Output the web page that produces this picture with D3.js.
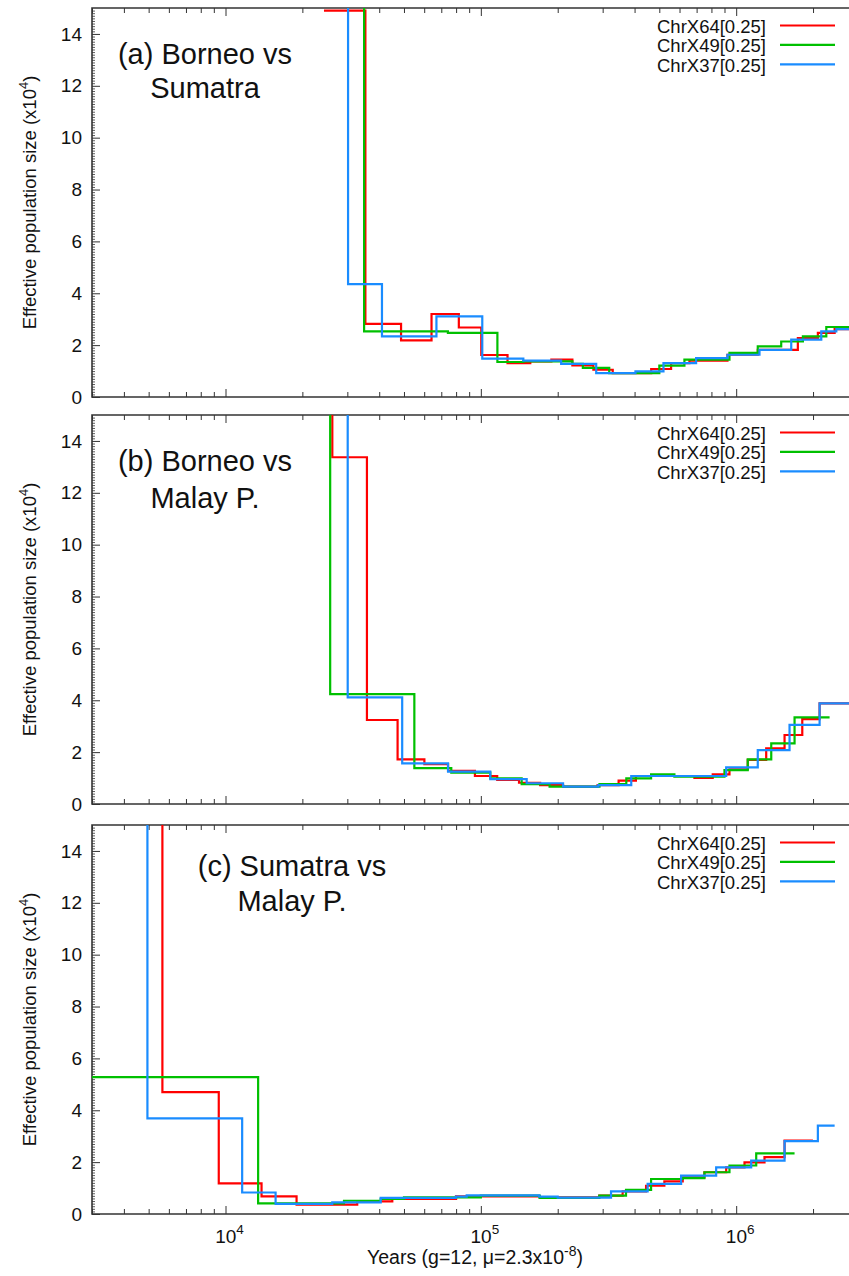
<!DOCTYPE html>
<html>
<head>
<meta charset="utf-8">
<script src="https://cdn.jsdelivr.net/npm/d3@7"></script>
<style>
  body { margin: 0; background: #fff; }
  svg text { font-family: "Liberation Sans", Arial, Helvetica, sans-serif; fill: #111; }
</style>
</head>
<body>
<svg id="chart" width="849" height="1276"></svg>
<script>
// legend / series
const seriesNames = ["ChrX64[0.25]", "ChrX49[0.25]", "ChrX37[0.25]"];
const seriesColors = ["#ff0000", "#00c000", "#1a8cff"];
const panelTitles = [["(a) Borneo vs", "Sumatra"], ["(b) Borneo vs", "Malay P."], ["(c) Sumatra vs", "Malay P."]];
const yTicks = [0, 2, 4, 6, 8, 10, 12, 14];
const xMajorTicks = [1e4, 1e5, 1e6];
const xTickExponents = ["4", "5", "6"];

// (a) Borneo vs Sumatra  -- step starts (years, last entry = end) and Ne (x10^4)
const aRedYears = [24300, 35300, 48700, 64100, 82000, 100400, 127200, 156200, 188900, 228300, 275900, 328500, 464700, 556000, 656000, 924500, 1215000, 1744000, 2089000, 2430000, 3000000];
const aRedNe = [14.9, 2.82, 2.18, 3.20, 2.68, 1.62, 1.31, 1.37, 1.44, 1.22, 1.05, 0.92, 1.08, 1.31, 1.40, 1.63, 1.82, 2.27, 2.47, 2.62];
const aGreenYears = [20000, 34900, 74300, 116100, 146700, 228300, 250900, 318300, 500100, 627000, 941300, 1215000, 1501000, 1825000, 2254000, 3000000];
const aGreenNe = [40, 2.53, 2.47, 1.35, 1.37, 1.28, 1.12, 0.92, 1.21, 1.44, 1.70, 1.95, 2.14, 2.34, 2.70];
const aBlueYears = [20000, 30200, 41000, 67000, 101300, 146700, 206300, 283000, 403200, 519100, 696700, 924500, 1234000, 1643000, 2154000, 2467000, 3000000];
const aBlueNe = [40, 4.35, 2.34, 3.11, 1.48, 1.40, 1.28, 0.92, 0.99, 1.31, 1.50, 1.63, 1.82, 2.21, 2.53, 2.62];

// (b) Borneo vs Malay P.
const bRedYears = [20000, 26200, 35800, 47200, 60100, 74400, 94800, 115900, 141100, 170700, 209900, 286600, 346400, 404800, 686200, 809400, 941300, 1110000, 1311000, 1547000, 1815000, 2122000, 3000000];
const bRedNe = [40, 13.37, 3.24, 1.72, 1.54, 1.28, 1.08, 0.93, 0.82, 0.73, 0.67, 0.73, 0.90, 1.08, 1.01, 1.14, 1.34, 1.70, 2.15, 2.66, 3.27, 3.88];
const bGreenYears = [20000, 25700, 54900, 76600, 108900, 144500, 185900, 291500, 371300, 464200, 572800, 899800, 1110000, 1372000, 1693000, 2322000];
const bGreenNe = [40, 4.24, 1.38, 1.21, 0.99, 0.77, 0.67, 0.77, 0.99, 1.14, 1.05, 1.31, 1.72, 2.34, 3.34];
const bBlueYears = [20000, 30100, 49200, 74400, 108900, 151200, 209900, 288400, 388200, 913800, 1215000, 1618000, 2122000, 3000000];
const bBlueNe = [40, 4.11, 1.57, 1.25, 0.96, 0.80, 0.67, 0.73, 1.08, 1.41, 2.08, 3.05, 3.88];

// (c) Sumatra vs Malay P.
const cRedYears = [3000, 5660, 9410, 13840, 18980, 32800, 45000, 80000, 170000, 291000, 359200, 443700, 523300, 617500, 751000, 913800, 1078000, 1291000, 1547000, 1998000];
const cRedNe = [40, 4.70, 1.18, 0.68, 0.36, 0.49, 0.58, 0.68, 0.64, 0.71, 0.87, 1.09, 1.26, 1.41, 1.61, 1.80, 1.99, 2.19, 2.83];
const cGreenYears = [2900, 13420, 29110, 40530, 50000, 100000, 170000, 291000, 370300, 464200, 617500, 751000, 941300, 1198000, 1693000];
const cGreenNe = [5.28, 0.41, 0.51, 0.58, 0.64, 0.71, 0.62, 0.71, 0.93, 1.35, 1.38, 1.61, 1.87, 2.34];
const cBlueYears = [3000, 4945, 11620, 15710, 26180, 40530, 79800, 88000, 169300, 200000, 323500, 450100, 608600, 834800, 1145000, 1547000, 2089000, 2430000];
const cBlueNe = [40, 3.69, 0.83, 0.39, 0.45, 0.62, 0.67, 0.72, 0.67, 0.63, 0.87, 1.16, 1.48, 1.80, 2.06, 2.81, 3.41];

const panelSeries = [
  [[aRedYears, aRedNe], [aGreenYears, aGreenNe], [aBlueYears, aBlueNe]],
  [[bRedYears, bRedNe], [bGreenYears, bGreenNe], [bBlueYears, bBlueNe]],
  [[cRedYears, cRedNe], [cGreenYears, cGreenNe], [cBlueYears, cBlueNe]]
];

// layout
const left = 92, right = 858, panelH = 389;
const panelTops = [8, 415, 825];
const titleX = [205, 205, 292];
const titleDy = [[56, 90], [56, 93], [51, 86]];

const svg = d3.select("#chart");
const x = d3.scaleLog().domain([3000, 3e6]).range([left, right]);

const xMinor = [];
[1e3, 1e4, 1e5, 1e6].forEach(d => {
  for (let k = 2; k <= 9; k++) {
    const v = k * d;
    if (v >= 3000 && v <= 3e6 && !xMajorTicks.includes(v)) xMinor.push(v);
  }
});
const yMinor = d3.range(1, 150).map(i => i / 10).filter(v => Math.abs(v / 2 - Math.round(v / 2)) > 1e-6);

const frameColor = "#333";

panelTops.forEach((top, pi) => {
  const bottom = top + panelH;
  const y = d3.scaleLinear().domain([0, 15]).range([bottom, top]);
  const g = svg.append("g");

  g.append("clipPath").attr("id", "clip" + pi)
    .append("rect").attr("x", left).attr("y", top).attr("width", right - left).attr("height", panelH);

  // y axis
  const yAxis = g.append("g").attr("transform", `translate(${left},0)`)
    .call(d3.axisLeft(y).tickValues(yTicks).tickSize(-8).tickPadding(10).tickFormat(d3.format("d")));
  yAxis.select(".domain").remove();
  yAxis.selectAll("line").attr("stroke", frameColor);
  yAxis.selectAll("text").attr("font-size", 19).attr("fill", "#111")
    .attr("font-family", '"Liberation Sans", Arial, sans-serif');
  const yAxisMinor = g.append("g").attr("transform", `translate(${left},0)`)
    .call(d3.axisLeft(y).tickValues(yMinor).tickSize(-3).tickFormat(""));
  yAxisMinor.select(".domain").remove();
  yAxisMinor.selectAll("line").attr("stroke", frameColor).attr("stroke-width", 0.8);

  // x axes (bottom and mirrored top)
  [[d3.axisBottom, bottom], [d3.axisTop, top]].forEach(([axisFn, yy]) => {
    const ax = g.append("g").attr("transform", `translate(0,${yy})`)
      .call(axisFn(x).tickValues(xMajorTicks).tickSize(-8).tickFormat(""));
    ax.select(".domain").remove();
    ax.selectAll("line").attr("stroke", frameColor);
    const axm = g.append("g").attr("transform", `translate(0,${yy})`)
      .call(axisFn(x).tickValues(xMinor).tickSize(-5).tickFormat(""));
    axm.select(".domain").remove();
    axm.selectAll("line").attr("stroke", frameColor);
  });

  // frame (right side is cut off in the figure)
  g.append("path")
    .attr("d", `M${right},${top}H${left}V${bottom}H${right}`)
    .attr("fill", "none").attr("stroke", frameColor).attr("stroke-width", 1.6);

  // step lines
  const line = d3.line().curve(d3.curveStepAfter).x(d => x(d[0])).y(d => y(d[1]));
  const plot = g.append("g").attr("clip-path", `url(#clip${pi})`);
  panelSeries[pi].forEach(([years, ne], si) => {
    const pts = years.map((t, i) => [t, ne[Math.min(i, ne.length - 1)]]);
    plot.append("path").datum(pts)
      .attr("d", line)
      .attr("fill", "none")
      .attr("stroke", seriesColors[si])
      .attr("stroke-width", 2.2)
      .attr("stroke-linejoin", "miter");
  });

  // legend
  seriesNames.forEach((name, si) => {
    const by = top + 25 + si * 19.4;
    g.append("text").attr("x", 766).attr("y", by)
      .attr("text-anchor", "end").attr("font-size", 18.5).text(name);
    g.append("line").attr("x1", 780).attr("x2", 835)
      .attr("y1", by - 7.5).attr("y2", by - 7.5)
      .attr("stroke", seriesColors[si]).attr("stroke-width", 2.2);
  });

  // panel title
  panelTitles[pi].forEach((t, li) => {
    g.append("text").attr("x", titleX[pi]).attr("y", top + titleDy[pi][li])
      .attr("text-anchor", "middle").attr("font-size", 29).text(t);
  });

  // y label
  const yl = g.append("text")
    .attr("transform", `translate(36,${(top + bottom) / 2}) rotate(-90)`)
    .attr("text-anchor", "middle").attr("font-size", 18.5);
  yl.append("tspan").text("Effective population size (x10");
  yl.append("tspan").attr("dy", -8).attr("font-size", 13).text("4");
  yl.append("tspan").attr("dy", 8).text(")");

  // x tick labels only on the bottom panel
  if (pi === panelTops.length - 1) {
    xMajorTicks.forEach((v, i) => {
      const t = g.append("text").attr("x", x(v) + 4).attr("y", bottom + 29)
        .attr("text-anchor", "middle").attr("font-size", 19);
      t.append("tspan").text("10");
      t.append("tspan").attr("dy", -9).attr("font-size", 13.5).text(xTickExponents[i]);
    });
    const xt = g.append("text").attr("x", 475).attr("y", bottom + 50)
      .attr("text-anchor", "middle").attr("font-size", 19.5);
    xt.append("tspan").text("Years (g=12, \u03bc=2.3x10");
    xt.append("tspan").attr("dy", -8).attr("font-size", 14).text("-8");
    xt.append("tspan").attr("dy", 8).text(")");
  }
});
</script>
</body>
</html>
